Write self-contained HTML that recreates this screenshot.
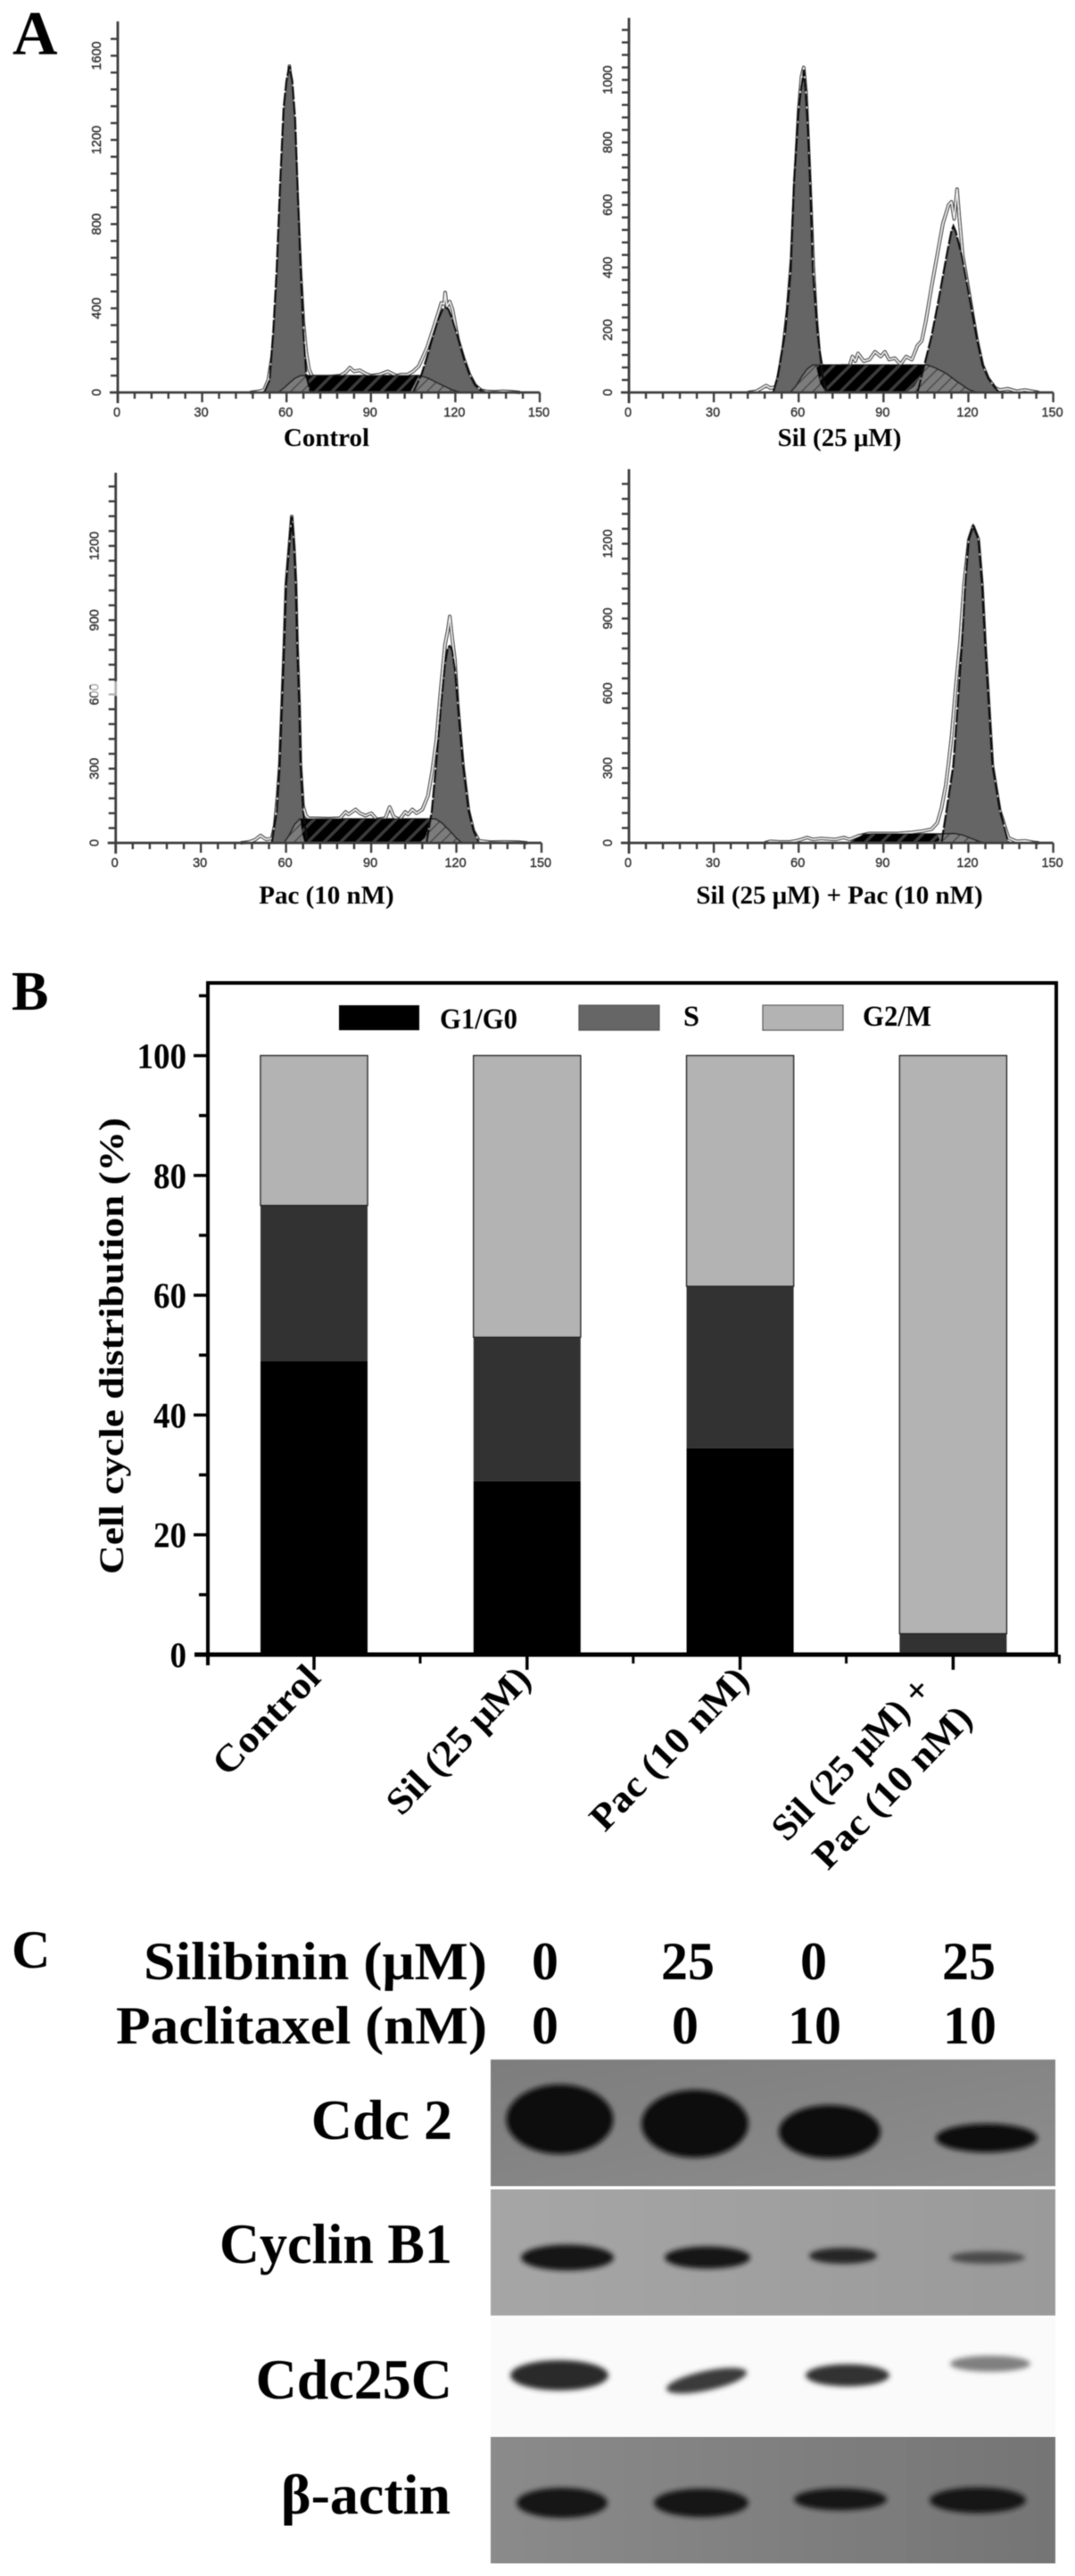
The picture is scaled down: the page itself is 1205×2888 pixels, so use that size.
<!DOCTYPE html>
<html lang="en">
<head>
<meta charset="utf-8">
<title>Cell cycle analysis figure</title>
<style>
html,body{margin:0;padding:0;background:#fff;}
svg{display:block;}
.serif{font-family:"Liberation Serif",serif;font-weight:bold;fill:#000;}
.tick{font-family:"Liberation Sans",sans-serif;font-size:14.5px;fill:#333;stroke:#333;stroke-width:.4px;}
</style>
</head>
<body>
<svg id="fig" xmlns="http://www.w3.org/2000/svg" width="1205" height="2888" viewBox="0 0 1205 2888">
<defs>
  <pattern id="hatchBlack" width="13" height="13" patternUnits="userSpaceOnUse" patternTransform="rotate(45)">
    <rect width="13" height="13" fill="#060606"/>
    <rect width="3" height="13" fill="#3c3c3c"/>
  </pattern>
  <pattern id="hatchGray" width="9" height="9" patternUnits="userSpaceOnUse" patternTransform="rotate(45)">
    <rect width="9" height="9" fill="#7c7c7c"/>
    <rect width="1.4" height="9" fill="#444"/>
  </pattern>
  <linearGradient id="blotA" x1="0" y1="0" x2="1" y2="1">
    <stop offset="0" stop-color="#7d7d7d"/><stop offset="1" stop-color="#8e8e8e"/>
  </linearGradient>
  <linearGradient id="blotB" x1="0" y1="0" x2="1" y2="0">
    <stop offset="0" stop-color="#a6a6a6"/><stop offset="1" stop-color="#9a9a9a"/>
  </linearGradient>
  <linearGradient id="blotD" x1="0" y1="0" x2="1" y2="0">
    <stop offset="0" stop-color="#8b8b8b"/><stop offset="1" stop-color="#757575"/>
  </linearGradient>
  <filter id="soft" x="-30%" y="-60%" width="160%" height="220%"><feGaussianBlur stdDeviation="3"/></filter>
  <filter id="softer" x="-30%" y="-80%" width="160%" height="260%"><feGaussianBlur stdDeviation="3"/></filter>
  <filter id="imgBlur" x="0" y="0" width="100%" height="100%"><feGaussianBlur stdDeviation="0.55"/></filter>
</defs>

<g id="root" filter="url(#imgBlur)">
  <text class="serif" x="14" y="61" font-size="70">A</text>
  <text class="serif" x="13" y="1132" font-size="62">B</text>
  <text class="serif" x="13" y="2206" font-size="60">C</text>

  <g id="panelA"></g>
  <g id="panelB"></g>

  <g id="panelC">
    <text class="serif" x="546" y="2219" font-size="60" text-anchor="end" textLength="385" lengthAdjust="spacingAndGlyphs">Silibinin (μM)</text>
    <text class="serif" x="546" y="2291" font-size="60" text-anchor="end" textLength="416" lengthAdjust="spacingAndGlyphs">Paclitaxel (nM)</text>
    <g class="serif" font-size="60" text-anchor="middle">
      <text x="611" y="2219">0</text>
      <text x="771" y="2219">25</text>
      <text x="912" y="2219">0</text>
      <text x="1086" y="2219">25</text>
      <text x="611" y="2291">0</text>
      <text x="768" y="2291">0</text>
      <text x="913" y="2291">10</text>
      <text x="1087" y="2291">10</text>
    </g>

    <g>
      <rect x="550" y="2309" width="633" height="142" fill="url(#blotA)"/>
      <g fill="#0d0d0d" filter="url(#soft)">
        <ellipse cx="627.5" cy="2376" rx="60" ry="39"/>
        <ellipse cx="779" cy="2381" rx="60" ry="38"/>
        <ellipse cx="930" cy="2390" rx="57" ry="30"/>
        <ellipse cx="1106" cy="2397" rx="57" ry="16"/>
      </g>
    </g>
    <g>
      <rect x="550" y="2454.5" width="633" height="141.5" fill="url(#blotB)"/>
      <g filter="url(#softer)">
        <ellipse cx="636" cy="2531" rx="52" ry="14.5" fill="#141414"/>
        <ellipse cx="793" cy="2531" rx="48" ry="12.5" fill="#141414"/>
        <ellipse cx="945" cy="2529" rx="38" ry="9" fill="#252525"/>
        <ellipse cx="1107" cy="2531" rx="42" ry="7" fill="#4c4c4c"/>
      </g>
    </g>
    <g>
      <rect x="550" y="2598" width="633" height="133" fill="#fafafa"/>
      <g filter="url(#softer)">
        <ellipse cx="627" cy="2663" rx="55" ry="17" fill="#2a2a2a"/>
        <ellipse cx="792" cy="2669" rx="46" ry="11" fill="#3a3a3a" transform="rotate(-12 792 2669)"/>
        <ellipse cx="950" cy="2663" rx="47" ry="12.5" fill="#333"/>
        <ellipse cx="1110" cy="2650" rx="45" ry="9" fill="#808080"/>
      </g>
    </g>
    <g>
      <rect x="550" y="2732" width="633" height="142" fill="url(#blotD)"/>
      <g fill="#141414" filter="url(#softer)">
        <ellipse cx="630" cy="2806" rx="51" ry="17"/>
        <ellipse cx="786" cy="2806" rx="53" ry="16"/>
        <ellipse cx="942" cy="2802" rx="52" ry="12.5"/>
        <ellipse cx="1096" cy="2803" rx="54" ry="14.5"/>
      </g>
    </g>

    <g class="serif" font-size="64" text-anchor="end">
      <text x="507" y="2398">Cdc 2</text>
      <text x="507" y="2537" textLength="261" lengthAdjust="spacingAndGlyphs">Cyclin B1</text>
      <text x="507" y="2689">Cdc25C</text>
      <text x="505" y="2818">β-actin</text>
    </g>
  </g>
</g>
</svg>

<script>
/* ---------- Panel A values: [DNA channel, cell count] ---------- */
const xTickLabels = [0, 30, 60, 90, 120, 150];
const controlYTicks = [0, 400, 800, 1200, 1600];
const silYTicks = [0, 200, 400, 600, 800, 1000];
const pacYTicks = [0, 300, 600, 900, 1200];
const comboYTicks = [0, 300, 600, 900, 1200];

const controlG1 = [[52,0],[54,60],[55.3,288],[56.5,576],[57.8,1004],[59,1350],[60,1480],[61,1551],[62,1480],[63,1300],[63.8,1004],[65,576],[66,288],[67,80],[68.5,0]];
const controlG2 = [[105,0],[108,85],[110,170],[112,265],[114,350],[115.5,395],[116.4,405],[117.5,395],[119,345],[121,255],[123,160],[125,85],[127,35],[129,10],[131,0]];
const controlS = [[57,0],[59,20],[61,45],[63,68],[65,80],[107,80],[110,70],[113,50],[116,30],[119,12],[122,0]];
const controlBlack = [[66.5,80],[107,80],[105.5,40],[104,0],[68.5,0],[67.5,40]];
const controlRaw = [[47,0],[50,5],[52,12],[53.5,60],[55,180],[56,300],[57.5,640],[59,1020],[60.2,1350],[61,1551],[61.8,1420],[63,1140],[64,860],[65,560],[66,330],[67,190],[68,110],[69,80],[70,75],[75,75],[79,80],[81,95],[82.5,118],[84,100],[86,105],[88,90],[90,80],[93,85],[96,100],[97.5,90],[99,80],[101,85],[103,85],[105,100],[107,125],[108,155],[110,215],[112.5,318],[114,380],[115,425],[116,420],[116.4,475],[117,410],[118,432],[119,395],[120,320],[121,250],[123,160],[125,85],[127,35],[129,12],[131,5],[134,3],[137,6],[140,4],[143,0]];

const silG1 = [[51,0],[52.6,50],[55.3,194],[57.2,388],[58.4,676],[60,900],[60.8,967],[61.8,1033],[62.4,967],[63.2,850],[64,676],[65,388],[66.6,194],[68.5,50],[70,0]];
const silG2 = [[102,0],[104.5,88],[107,180],[109.4,291],[112.3,436],[114,515],[114.7,532],[115.5,515],[117.7,436],[120.6,291],[123,170],[125,88],[127,45],[129.4,15],[131,0]];
const silS = [[57,0],[59,20],[61,50],[63,75],[65,88],[105.5,88],[108,80],[112,62],[116,35],[120,10],[123,0]];
const silBlack = [[66,88],[104.5,88],[103,50],[101,20],[98,0],[69.5,0],[67.5,30]];
const silRaw = [[42,0],[45,4],[47,14],[48.5,22],[50,14],[52,18],[53,60],[54.5,140],[56,260],[57.5,430],[58.5,640],[60,900],[61,1010],[61.8,1040],[62.6,960],[63.4,800],[64.3,600],[65.2,400],[66.2,240],[67.2,130],[68,90],[69,75],[71,80],[75,85],[78,85],[79,115],[80,100],[81,125],[83,100],[85,105],[87,130],[89,115],[90.5,130],[92,105],[94,110],[96,90],[98,115],[100,105],[102,150],[103.5,165],[105,230],[107,340],[109,440],[111,540],[113,600],[114,610],[115,555],[116,650],[116.8,560],[118,440],[120.6,300],[123,170],[125,88],[127,45],[129.4,15],[131,8],[134,12],[137,4],[140,8],[143,3],[145,0]];

const pacG1 = [[55,0],[56.8,130],[57.8,314],[58.6,558],[59.4,800],[60.1,1045],[61.2,1200],[62,1319],[62.8,1200],[63.4,1045],[63.9,800],[64.6,558],[65.1,314],[66,130],[67.5,0]];
const pacG2 = [[109.5,0],[111.4,130],[112.9,314],[114.6,558],[116,720],[117,790],[117.7,795],[118.5,780],[119.5,700],[120.5,558],[122.3,314],[124.3,130],[126,50],[128,0]];
const pacS = [[59.3,0],[61,30],[63,75],[64.9,97],[112.7,97],[115,80],[118,45],[120,20],[122,0]];
const pacBlack = [[65,97],[111,97],[110,55],[109,20],[107,0],[66.5,0],[65.6,40]];
const pacRaw = [[44,0],[47,4],[49,12],[51,30],[53,14],[55,18],[56,70],[57,190],[57.8,314],[58.6,558],[59.4,800],[60.1,1045],[61.2,1200],[62,1319],[62.8,1190],[63.4,1045],[63.9,800],[64.6,558],[65.1,314],[66,150],[67,110],[68,100],[75,98],[79,100],[81,125],[82,115],[84.5,135],[86,120],[88,110],[90,120],[92,95],[95,100],[96.5,145],[98,105],[100,95],[102,125],[103,115],[104.5,135],[106,120],[108,135],[110,190],[111.5,290],[113,420],[114.5,620],[116,800],[117,860],[117.7,915],[118.5,830],[119.5,740],[120.5,558],[122.3,314],[124.3,130],[126,50],[128,8],[132,3],[137,4],[142,3],[145,0]];

const comboG2 = [[110.5,0],[112.3,130],[114.7,311],[116.3,554],[117.7,794],[118.9,1038],[120.2,1218],[121.7,1270],[123.5,1218],[124.8,1038],[125.9,794],[127.2,554],[128.5,311],[131.1,130],[134.2,0]];
const comboS = [[78,0],[80,15],[83,34],[86,36],[110,36],[115,38],[118,32],[121,18],[124,5],[126,0]];
const comboBlack = [[83.6,36],[109,36],[110,10],[108,0],[79,0],[80,15]];
const comboRaw = [[48,0],[50,6],[53,4],[57,4],[59,8],[61,14],[63,22],[65,14],[68,18],[70,16],[73,14],[76,22],[78,14],[81,28],[85,38],[90,38],[95,38],[100,42],[104,48],[107,55],[109,80],[110.5,140],[112,230],[113,320],[114,420],[115.5,620],[117,800],[118.5,1040],[120.2,1218],[121.7,1270],[123.5,1218],[124.8,1038],[125.9,794],[127.2,554],[128.5,311],[131.1,130],[134.2,20],[137,6],[140,8],[143,2],[145,0]];

/* ---------- Panel B values ---------- */
const barYTicks = [0, 20, 40, 60, 80, 100];
const barCategories = [["Control"], ["Sil (25 μM)"], ["Pac (10 nM)"], ["Sil (25 μM) +", "Pac (10 nM)"]];
const g1Values = [49, 29, 34.5, 0];
const sValues = [26, 24, 27, 3.5];
const g2mValues = [25, 47, 38.5, 96.5];
const legendLabels = ["G1/G0", "S", "G2/M"];

/* ---------- Drawing ---------- */
const NS = "http://www.w3.org/2000/svg";
function el(parent, tag, attrs, text) {
  const n = document.createElementNS(NS, tag);
  for (const k in attrs) n.setAttribute(k, attrs[k]);
  if (text !== undefined) n.textContent = text;
  parent.appendChild(n);
  return n;
}
function pathOf(points, x, y, close) {
  return points.map(function (p, i) {
    return (i ? "L" : "M") + x(p[0]).toFixed(1) + " " + y(p[1]).toFixed(1);
  }).join(" ") + (close ? " Z" : "");
}

function drawHistogram(parent, key, box, yTicks, minorPerMajor, g1, g2, s, black, raw, title) {
  const g = el(parent, "g", {});
  
  
  const x = function (c) { return box.x0 + (box.x150 - box.x0) * c / 150; };
  const yMax = yTicks[yTicks.length - 1];
  const y = function (v) { return box.base - (box.base - box.tickTop) * v / yMax; };

  // raw histogram (double line)
  const rawDark = el(g, "path", { d: pathOf(raw, x, y), fill: "none", stroke: "#2e2e2e", "stroke-width": 3.8, "stroke-linejoin": "round" });
  
  
  const rawLight = el(g, "path", { d: pathOf(raw, x, y), fill: "none", stroke: "#f4f4f4", "stroke-width": 1.5, "stroke-linejoin": "round" });
  
  

  // G1 and G2 fills with dashed fit
  [["g1", g1], ["g2", g2]].forEach(function (item) {
    if (!item[1].length) return;
    const area = el(g, "path", { d: pathOf(item[1], x, y, true), fill: "#656565" });
    
    
  });
  // S phase
  const sArea = el(g, "path", { d: pathOf(s, x, y, true), fill: "url(#hatchGray)", stroke: "#222", "stroke-width": 1.6 });
  
  
  const blackArea = el(g, "path", { d: pathOf(black, x, y, true), fill: "url(#hatchBlack)" });
  
  
  [["g1", g1], ["g2", g2]].forEach(function (item) {
    if (!item[1].length) return;
    const fit = el(g, "path", { d: pathOf(item[1], x, y), fill: "none", stroke: "#111", "stroke-width": 2.4, "stroke-dasharray": "15 2" });
    
    
  });

  // axes
  const yAxis = el(g, "line", { x1: box.x0, x2: box.x0, y1: box.top, y2: box.base + 12, stroke: "#3c3c3c", "stroke-width": 2.8 });
  
  
  const xAxis = el(g, "line", { x1: box.x0 - 9, x2: box.x150, y1: box.base, y2: box.base, stroke: "#3c3c3c", "stroke-width": 2.8 });
  
  

  // y ticks
  const step = (yTicks[1] - yTicks[0]) / minorPerMajor;
  for (let v = step; box.base - (box.base - box.tickTop) * v / yMax > box.top + 6; v += step) {
    const t = el(g, "line", { x1: box.x0 - 8, x2: box.x0, y1: y(v), y2: y(v), stroke: "#3c3c3c", "stroke-width": 2.4 });
    
    
  }
  yTicks.forEach(function (v) {
    const lx = box.x0 - 19;
    const lab = el(g, "text", { class: "tick", x: lx, y: y(v), "text-anchor": "middle", transform: "rotate(-90 " + lx + " " + y(v) + ")" }, String(v));
    
    
  });
  // x ticks
  for (let c = 6; c <= 150; c += 6) {
    const t = el(g, "line", { x1: x(c), x2: x(c), y1: box.base, y2: box.base + (c % 30 ? 7 : 11), stroke: "#3c3c3c", "stroke-width": 2.4 });
    
    
  }
  xTickLabels.forEach(function (c) {
    const lab = el(g, "text", { class: "tick", x: x(c) - 1, y: box.base + 27, "text-anchor": "middle" }, String(c));
    
    
  });
  // title
  const cap = el(g, "text", { class: "serif", x: box.titleX, y: box.titleY, "font-size": 29, "text-anchor": "middle" }, title);
  
  
}

const panelA = document.getElementById("panelA");
drawHistogram(panelA, "control", { x0: 132, x150: 605, base: 440, top: 24, tickTop: 62.5, titleX: 366, titleY: 500 }, controlYTicks, 5, controlG1, controlG2, controlS, controlBlack, controlRaw, "Control");
drawHistogram(panelA, "sil", { x0: 705, x150: 1180.6, base: 440, top: 20, tickTop: 89.6, titleX: 941, titleY: 500 }, silYTicks, 5, silG1, silG2, silS, silBlack, silRaw, "Sil (25 μM)");
drawHistogram(panelA, "pac", { x0: 129.7, x150: 607, base: 945, top: 530, tickTop: 612, titleX: 366, titleY: 1013 }, pacYTicks, 5, pacG1, pacG2, pacS, pacBlack, pacRaw, "Pac (10 nM)");
drawHistogram(panelA, "combo", { x0: 705, x150: 1180.6, base: 945, top: 526, tickTop: 609.6, titleX: 941, titleY: 1013 }, comboYTicks, 5, [], comboG2, comboS, comboBlack, comboRaw, "Sil (25 μM) + Pac (10 nM)");
const fadePatch = el(panelA, "rect", { x: 102, y: 764, width: 32, height: 16, fill: "#fff", opacity: 0.6 });



/* Panel B */
(function () {
  const g = document.getElementById("panelB");
  const left = 233, right = 1184, top = 1102, base = 1855, y100 = 1183.5;
  const y = function (v) { return base - (base - y100) * v / 100; };
  const cx = function (i) { return 352 + i * 238.8; };
  const barW = 120;

  barCategories.forEach(function (cat, i) {
    const segs = [["g1", g1Values[i], "#000"], ["s", sValues[i], "#313131"], ["g2m", g2mValues[i], "#b3b3b3"]];
    let acc = 0;
    segs.forEach(function (sg) {
      if (sg[1] > 0) {
        const r = el(g, "rect", { x: cx(i) - barW / 2, y: y(acc + sg[1]), width: barW, height: y(acc) - y(acc + sg[1]), fill: sg[2], stroke: sg[0] === "g2m" ? "#222" : "none", "stroke-width": 1.5 });
        
        
      }
      acc += sg[1];
    });
  });

  const frame = el(g, "path", { d: "M" + left + " " + (base + 12) + " V" + top + " H" + right + " V" + base, fill: "none", stroke: "#000", "stroke-width": 4 });
  
  
  const xAxis = el(g, "line", { x1: left - 15, x2: right + 2, y1: base, y2: base, stroke: "#000", "stroke-width": 5 });
  
  

  for (let v = 10; v <= 110; v += 10) {
    const major = v % 20 === 0;
    const t = el(g, "line", { x1: left - (major ? 16 : 10), x2: left, y1: y(v), y2: y(v), stroke: "#000", "stroke-width": 3.5 });
    
    
  }
  barYTicks.forEach(function (v) {
    const s = String(v);
    const lab = el(g, "text", { class: "serif", x: 209, y: y(v) + 14, "font-size": 40, "text-anchor": "end", textLength: s.length * 18.5, lengthAdjust: "spacingAndGlyphs" }, s);
    
    
  });
  barCategories.forEach(function (cat, i) {
    const t = el(g, "line", { x1: cx(i), x2: cx(i), y1: base, y2: base + 17, stroke: "#000", "stroke-width": 3.5 });
    
    
    const m = el(g, "line", { x1: cx(i) + 119, x2: cx(i) + 119, y1: base, y2: base + 10, stroke: "#000", "stroke-width": 3 });
    
    
  });

  // rotated category labels
  const labelStarts = [[[255, 1993, 153]], [[450, 2037, 212]], [[678, 2055, 236]], [[882, 2066, 236], [928, 2098, 236]]];
  barCategories.forEach(function (lines, i) {
    lines.forEach(function (line, j) {
      const p = labelStarts[i][j];
      const lab = el(g, "text", { class: "serif", x: 0, y: 0, "font-size": 42, textLength: p[2], lengthAdjust: "spacingAndGlyphs", transform: "translate(" + p[0] + " " + p[1] + ") rotate(-46)" }, line);
      
      
    });
  });

  // y title
  const yt = el(g, "text", { class: "serif", x: 0, y: 0, "font-size": 39, "text-anchor": "middle", textLength: 512, lengthAdjust: "spacingAndGlyphs", transform: "translate(138 1509) rotate(-90)" }, "Cell cycle distribution (%)");
  
  

  // legend
  const legendFill = ["#000", "#666", "#b3b3b3"];
  const legendSwatchX = [380, 649, 855];
  const legendTextX = [493, 766, 967];
  const legendTextW = [87, 18, 77];
  legendLabels.forEach(function (name, i) {
    const r = el(g, "rect", { x: legendSwatchX[i], y: 1127, width: 90, height: 28, fill: legendFill[i], stroke: i ? "#555" : "none", "stroke-width": 1.2 });
    
    
    const t = el(g, "text", { class: "serif", x: legendTextX[i], y: i === 0 ? 1153 : 1150, "font-size": 33, textLength: legendTextW[i], lengthAdjust: "spacingAndGlyphs" }, name);
    
    
  });
})();
</script>
</body>
</html>
